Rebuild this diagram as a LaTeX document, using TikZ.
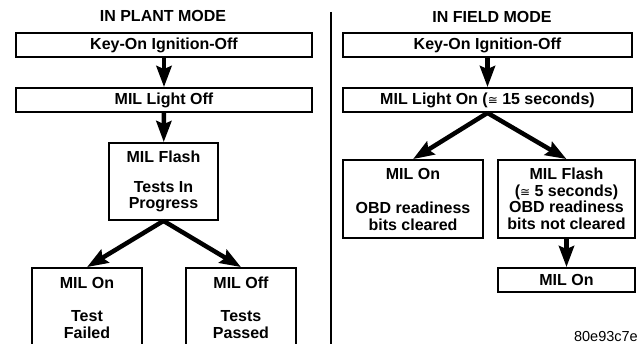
\documentclass[tikz,border=0pt]{standalone}
\usepackage{fontspec}
\setmainfont{Liberation Sans}
\newfontfamily\symf{DejaVu Sans}
\usetikzlibrary{arrows.meta}
\newcommand{\approxeq}{{\symf\mdseries\fontsize{12}{12}\selectfont ≅}}
\begin{document}
\begin{tikzpicture}[x=1pt,y=-1pt,
  box/.style={draw,line width=1.8pt,align=center,inner sep=0pt,
    font=\fontsize{16}{16.5}\selectfont\bfseries},
  ttl/.style={font=\fontsize{16}{17}\selectfont\bfseries},
  arr/.style={line width=4.5pt,-{Stealth[length=21pt,width=15pt,inset=3pt]}}]
\clip (0,0) rectangle (640,344);
\fill[white] (0,0) rectangle (640,344);
% titles
\node[ttl] (tl) at (163,16) {IN PLANT MODE};
\node[ttl] (tr) at (492,17) {IN FIELD MODE};
% divider
\draw[line width=1.5pt] (331,12) -- (331,346);
% left column
\node[box,minimum width=296pt,minimum height=24pt] (kL) at (164,45) {Key-On Ignition-Off};
\node[box,minimum width=296pt,minimum height=24pt] (mL) at (164,100) {MIL Light Off};
\node[box,minimum width=109pt,minimum height=77pt] (fL) at (163.5,181.5) {MIL Flash\\[13pt]Tests In\\Progress};
\node[box,minimum width=110pt,minimum height=79pt] (onL) at (87,307.5) {MIL On\\[17pt]Test\\Failed};
\node[box,minimum width=110pt,minimum height=79pt] (offL) at (241,307.5) {MIL Off\\[17pt]Tests\\Passed};
\draw[arr] (kL) -- (mL);
\draw[arr] (mL) -- (fL);
\draw[arr] (fL.south) -- (onL.north);
\draw[arr] (fL.south) -- (offL.north);
% right column
\node[box,minimum width=289pt,minimum height=24pt] (kR) at (487.5,45) {Key-On Ignition-Off};
\node[box,minimum width=289pt,minimum height=24pt] (lR) at (487.5,100) {MIL Light On (\approxeq\ 15 seconds)};
\node[box,minimum width=140pt,minimum height=78pt] (onR) at (413,199) {MIL On\\[18pt]OBD readiness\\bits cleared};
\node[box,minimum width=137pt,minimum height=78pt] (flR) at (566.5,199) {MIL Flash\\(\approxeq\ 5 seconds)\\OBD readiness\\bits not cleared};
\node[box,minimum width=137pt,minimum height=24pt] (on2R) at (566.5,280) {MIL On};
\draw[arr] (kR) -- (lR);
\draw[arr] (lR.south) -- (onR.north);
\draw[arr] (lR.south) -- (flR.north);
\draw[arr] (flR) -- (on2R);
% figure code
\node[anchor=east,inner sep=0pt,font=\fontsize{14.5}{15}\selectfont] (code) at (638,337) {80e93c7e};
\end{tikzpicture}
\end{document}
